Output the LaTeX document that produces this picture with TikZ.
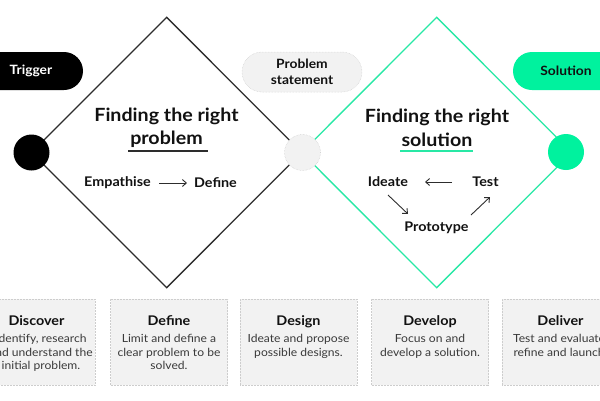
\documentclass[tikz,border=0pt]{standalone}
\usepackage{fontspec}
\setmainfont{Lato}[FakeStretch=1.08]
\usetikzlibrary{arrows.meta}
\definecolor{mint}{RGB}{0,242,158}
\definecolor{mintline}{RGB}{40,232,165}
\definecolor{ink}{RGB}{17,17,17}
\definecolor{body}{RGB}{58,58,58}
\definecolor{boxfill}{RGB}{242,242,242}
\definecolor{boxedge}{RGB}{205,205,205}
\definecolor{lineblack}{RGB}{45,45,45}
\tikzset{
  pill/.style={rounded corners=19pt, minimum height=38pt, inner sep=0pt, align=center, font=\bfseries\fontsize{12.8}{16}\selectfont},
  dot/.style={circle, minimum size=36pt, inner sep=0pt},
  heading/.style={align=center, font=\bfseries\fontsize{18.2}{23.5}\selectfont, text=ink},
  step text/.style={font=\bfseries\fontsize{13.3}{15}\selectfont, text=ink, inner sep=1pt},
  phase/.style={fill=boxfill, draw=boxedge, densely dotted, line width=0.5pt, minimum width=117pt, minimum height=86pt, inner sep=0pt},
  phasetitle/.style={font=\bfseries\fontsize{13.3}{15}\selectfont, text=ink},
  phasebody/.style={align=center, font=\fontsize{11.2}{13.4}\selectfont, text=body},
  arr/.style={-{Straight Barb[length=4pt,width=7pt]}, line width=0.9pt, lineblack}
}
\begin{document}
\begin{tikzpicture}[x=1pt,y=-1pt]
\useasboundingbox (0,0) rectangle (600,400);
\clip (0,0) rectangle (600,400);

% diamond vertices
\coordinate (L) at (31.5,152.5);
\coordinate (T1) at (166.7,17.3);
\coordinate (B1) at (166.7,287.7);
\coordinate (M) at (301.7,152.5);
\coordinate (T2) at (436.7,17.3);
\coordinate (B2) at (436.7,287.7);
\coordinate (R) at (571.7,152.5);

\draw[lineblack, line width=1.3pt, line join=miter] (L) -- (T1) -- (M) -- (B1) -- cycle;
\draw[mintline, line width=1.3pt, line join=miter] (M) -- (T2) -- (R) -- (B2) -- cycle;

% circles
\node[dot, fill=black] (cTrig) at (31.5,152.5) {};
\node[dot, fill=boxfill, draw=boxedge, densely dotted, line width=0.5pt] (cProb) at (302.5,152.5) {};
\node[dot, fill=mint] (cSol) at (566,152) {};

% pills
\node[pill, fill=black, text=white, minimum width=104pt] (trigger) at (31,71) {Trigger};
\node[pill, fill=boxfill, draw=boxedge, densely dotted, line width=0.5pt, minimum width=120pt, minimum height=40pt, rounded corners=20pt, text=ink,
      font=\bfseries\fontsize{12.8}{15.5}\selectfont] (statement) at (302,72) {Problem\\statement};
\node[pill, fill=mint, text=ink, minimum width=106pt] (solution) at (566,71) {Solution};

% left diamond text
\node[heading] (h1) at (166.5,128) {Finding the right\\problem};
\coordinate (u1a) at (128,151);
\coordinate (u1b) at (208,151);
\draw[lineblack, line width=1.6pt] (u1a) -- (u1b);
\node[step text] (emp) at (117.5,183) {Empathise};
\node[step text] (def) at (215.5,183) {Define};
\coordinate (ea1) at (159,183);
\coordinate (ea2) at (187,183);
\draw[arr] (ea1) -- (ea2);

% right diamond text
\node[heading] (h2) at (437,128) {Finding the right\\solution};
\coordinate (u2a) at (400,151);
\coordinate (u2b) at (473,151);
\draw[mintline, line width=1.6pt] (u2a) -- (u2b);
\node[step text] (ideate) at (388,182) {Ideate};
\node[step text] (test) at (485.5,182) {Test};
\node[step text] (proto) at (436.5,228) {Prototype};
\coordinate (a1s) at (452,182);
\coordinate (a1e) at (425,182);
\draw[arr] (a1s) -- (a1e);
\coordinate (a2s) at (388,195);
\coordinate (a2e) at (408,214);
\draw[arr] (a2s) -- (a2e);
\coordinate (a3s) at (471,215);
\coordinate (a3e) at (490,197);
\draw[arr] (a3s) -- (a3e);

% bottom phases
\foreach \cx/\bx/\nm/\ttl/\txt in {
  36.5/41/discover/Discover/{Identify, research\\and understand the\\initial problem.},
  169/169/define/Define/{Limit and define a\\clear problem to be\\solved.},
  298.5/298.5/design/Design/{Ideate and propose\\possible designs.},
  430/430/develop/Develop/{Focus on and\\develop a solution.},
  560.5/560.5/deliver/Deliver/{Test and evaluate,\\refine and launch.}} {
  \node[phase] (\nm) at (\cx,342) {};
  \node[phasetitle, anchor=base] (\nm-t) at (\cx,325.5) {\ttl};
  \node[phasebody, anchor=north] (\nm-b) at (\bx,331) {\txt};
}
\end{tikzpicture}
\end{document}
